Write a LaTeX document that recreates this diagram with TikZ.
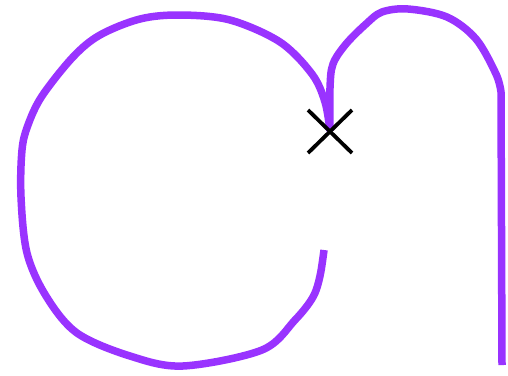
\documentclass[tikz,border=0pt]{standalone}
\usepackage{tikz}
\usetikzlibrary{calc}
\definecolor{curvepurple}{HTML}{9933FF}
\begin{document}
\begin{tikzpicture}[x=1pt,y=-1pt,
  curve/.style={draw=curvepurple,line width=7.5pt,line cap=butt,line join=round},
  crossline/.style={draw=black,line width=3.8pt}]
\useasboundingbox[fill=white] (0,0) rectangle (508,375);
\coordinate (X) at (330,131);
\draw[curve] plot[smooth,tension=0.55] coordinates {(324,250) (320,276) (313,297) (295,320) (262,350) (183,366) (130,356) (77,333) (46,296) (27,253) (21,197) (22,150) (28,125) (42,96) (73,57) (100,35) (140,19) (180,15) (230,20) (280,42) (312,74) (325,102) (X)};
\draw[curve] plot[smooth,tension=0.55] coordinates {(X) (330,88) (333,64) (346,44) (366,24) (382,12) (408,9) (447,17) (476,39) (496,74) (501,92)} -- (502,365);
\draw[crossline] ($(X)+(-22,-21)$) -- ($(X)+(22,22)$);
\draw[crossline] ($(X)+(-22,22)$) -- ($(X)+(22,-21)$);
\end{tikzpicture}
\end{document}
